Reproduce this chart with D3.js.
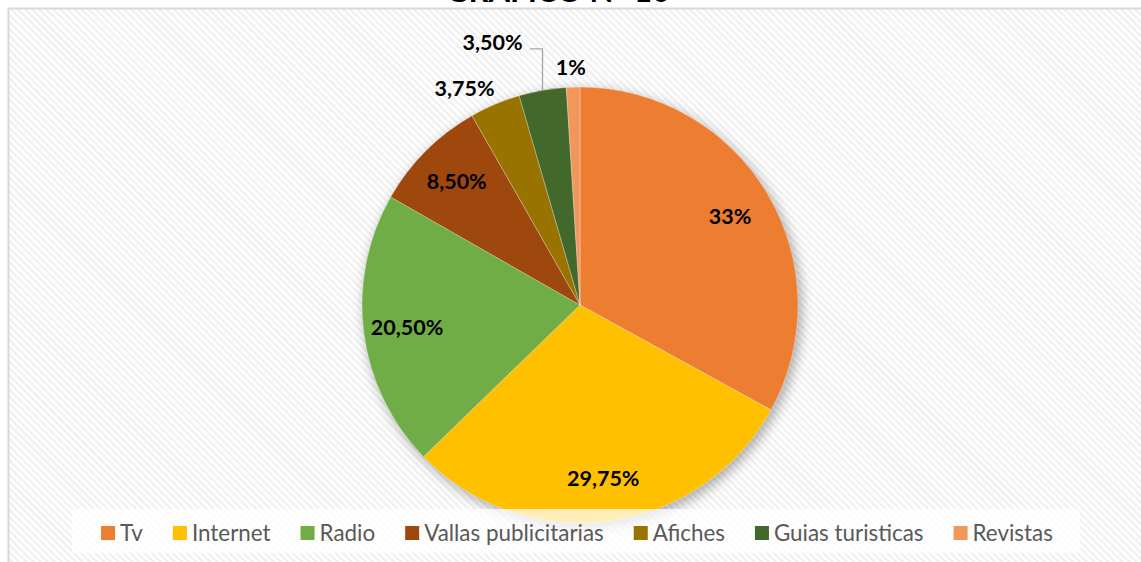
<!DOCTYPE html>
<html>
<head>
<meta charset="utf-8">
<script src="https://cdn.jsdelivr.net/npm/d3@7"></script>
<style>
  html, body { margin: 0; padding: 0; background: #fff; }
  svg { display: block; }
</style>
</head>
<body>
<svg id="chart" width="1141" height="562"></svg>
<script>
// Chart data
const categories = ["Tv", "Internet", "Radio", "Vallas publicitarias", "Afiches", "Guias turisticas", "Revistas"];
const shares = [33, 29.75, 20.5, 8.5, 3.75, 3.5, 1];
const valueLabels = ["33%", "29,75%", "20,50%", "8,50%", "3,75%", "3,50%", "1%"];
const colors = ["#ED7D31", "#FFC000", "#70AD47", "#9E480E", "#997300", "#43682B", "#F1975A"];
const chartTitle = "GRÁFICO N° 10";

// Layout
const W = 1141, H = 562;
const cx = 580, cy = 305, R = 218;
const insideLabelFactor = 0.8;
// small slices get their label outside the pie: radius factor and angle (deg, clockwise from top)
const outsideLabels = {
  4: { k: 1.128, deg: 332 },
  5: { k: 1.27, deg: 341.6, leader: true },
  6: { k: 1.092, deg: 357.8 }
};

const svg = d3.select("#chart");
const defs = svg.append("defs");

// diagonal hatch background
const pat = defs.append("pattern")
  .attr("id", "hatch")
  .attr("patternUnits", "userSpaceOnUse")
  .attr("width", 5).attr("height", 5)
  .attr("patternTransform", "rotate(-45)");
pat.append("rect").attr("width", 5).attr("height", 5).attr("fill", "#ffffff");
pat.append("rect").attr("width", 2.4).attr("height", 5).attr("fill", "#f0f0f0");

// soft outer shadow for the pie
const shadow = defs.append("filter").attr("id", "pieShadow")
  .attr("x", "-20%").attr("y", "-20%").attr("width", "140%").attr("height", "140%");
shadow.append("feGaussianBlur").attr("in", "SourceGraphic").attr("stdDeviation", 6);

// Chart area
svg.append("rect").attr("width", W).attr("height", H).attr("fill", "#fff");
svg.append("rect")
  .attr("x", 8.5).attr("y", 8.5)
  .attr("width", W + 20).attr("height", H + 20)
  .attr("fill", "url(#hatch)")
  .attr("stroke", "#d9d9d9").attr("stroke-width", 2);

// Title (sits above the chart area)
svg.append("text")
  .attr("x", 558).attr("y", 2)
  .attr("text-anchor", "middle")
  .attr("font-family", "Lato, 'Open Sans', sans-serif")
  .attr("font-weight", 700)
  .attr("font-size", 30)
  .attr("textLength", 224)
  .attr("lengthAdjust", "spacingAndGlyphs")
  .attr("fill", "#000")
  .text(chartTitle);

// Pie
const pie = d3.pie().sort(null).value(d => d);
const arcs = pie(shares);
const arc = d3.arc().innerRadius(0).outerRadius(R);
const labelArc = d3.arc().innerRadius(R * insideLabelFactor).outerRadius(R * insideLabelFactor);

const g = svg.append("g").attr("transform", `translate(${cx},${cy})`);

g.append("circle")
  .attr("cx", 3).attr("cy", 4).attr("r", R + 1)
  .attr("fill", "#000").attr("opacity", 0.3)
  .attr("filter", "url(#pieShadow)");

g.selectAll("path.slice")
  .data(arcs)
  .join("path")
  .attr("class", "slice")
  .attr("d", arc)
  .attr("fill", (d, i) => colors[i])
  .attr("stroke", "rgba(255,255,255,0.5)")
  .attr("stroke-width", 0.6);

// Data labels
const labelFont = "Lato, 'Open Sans', sans-serif";
arcs.forEach((d, i) => {
  let x, y;
  const o = outsideLabels[i];
  if (o) {
    const p = d3.pointRadial(o.deg * Math.PI / 180, R * o.k);
    x = p[0]; y = p[1];
  } else {
    [x, y] = labelArc.centroid(d);
  }
  const t = g.append("text")
    .attr("x", x).attr("y", y)
    .attr("dy", "0.36em")
    .attr("text-anchor", "middle")
    .attr("font-family", labelFont)
    .attr("font-weight", 700)
    .attr("font-size", 21.5)
    .attr("fill", "#000")
    .text(valueLabels[i]);
  if (o && o.leader) {
    const w = t.node().getComputedTextLength();
    const mid = (d.startAngle + d.endAngle) / 2;
    const s = d3.pointRadial(mid, R);
    const ly = y + 6.5;
    g.append("path")
      .attr("d", d3.line()([[s[0], s[1]], [s[0], ly], [x + w / 2 + 7, ly]]))
      .attr("fill", "none")
      .attr("stroke", "#a6a6a6")
      .attr("stroke-width", 1.3);
  }
});

// Legend
const legendBox = { x: 72, y: 509, w: 1008, h: 44 };
svg.append("rect")
  .attr("x", legendBox.x).attr("y", legendBox.y)
  .attr("width", legendBox.w).attr("height", legendBox.h)
  .attr("fill", "#fff").attr("opacity", 0.72);

const legend = svg.append("g");
const markerSize = 14, markerGap = 5, itemGap = 30;
let lx = 0;
categories.forEach((c, i) => {
  const item = legend.append("g").attr("transform", `translate(${lx},0)`);
  item.append("rect")
    .attr("x", 0).attr("y", -markerSize / 2)
    .attr("width", markerSize).attr("height", markerSize)
    .attr("fill", colors[i]);
  const t = item.append("text")
    .attr("x", markerSize + markerGap).attr("y", 0)
    .attr("dy", "0.36em")
    .attr("font-family", labelFont)
    .attr("font-size", 22.4)
    .attr("fill", "#595959")
    .text(c);
  lx += markerSize + markerGap + t.node().getComputedTextLength() + itemGap;
});
const legendWidth = lx - itemGap;
legend.attr("transform", `translate(${577 - legendWidth / 2},533)`);
</script>
</body>
</html>
